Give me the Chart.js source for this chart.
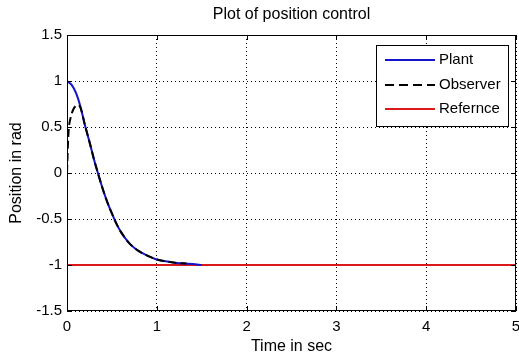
<!DOCTYPE html>
<html>
<head>
<meta charset="utf-8">
<script src="https://cdn.jsdelivr.net/npm/chart.js@4/dist/chart.umd.min.js"></script>
<style>
  html, body { margin: 0; padding: 0; background: #fff; }
  #wrap { width: 519px; height: 361px; }
</style>
</head>
<body>
<div id="wrap"><canvas id="myChart" width="519" height="361"></canvas></div>
<script>
// values
const plantTime = [0, 0.05, 0.1, 0.15, 0.2, 0.25, 0.3, 0.35, 0.4, 0.45, 0.5, 0.55, 0.6, 0.65, 0.7, 0.8, 0.9, 1.0, 1.1, 1.2, 1.3, 1.4, 1.5];
const plantPos = [1, 0.96, 0.87, 0.72, 0.52, 0.34, 0.15, -0.02, -0.18, -0.32, -0.44, -0.55, -0.64, -0.71, -0.77, -0.85, -0.9, -0.94, -0.96, -0.975, -0.985, -0.99, -1];
const obsTime = [0, 0.005, 0.01, 0.02, 0.04, 0.07, 0.1, 0.12, 0.15, 0.2, 0.25, 0.3, 0.35, 0.4, 0.45, 0.5, 0.55, 0.6, 0.65, 0.7, 0.8, 0.9, 1.0, 1.1, 1.2, 1.33];
const obsPos = [0, 0.15, 0.3, 0.48, 0.6, 0.69, 0.73, 0.74, 0.71, 0.52, 0.34, 0.15, -0.02, -0.18, -0.32, -0.44, -0.55, -0.64, -0.71, -0.77, -0.85, -0.9, -0.94, -0.96, -0.975, -0.985];
const refTime = [0, 5];
const refPos = [-1, -1];

const xTicks = [0, 1, 2, 3, 4, 5];
const yTicks = [-1.5, -1, -0.5, 0, 0.5, 1, 1.5];

const titleText = "Plot of position control";
const xTitle = "Time in sec";
const yTitle = "Position in rad";
const legendNames = ["Plant", "Observer", "Refernce"];

const blue = "rgb(20, 20, 200)";
const red = "rgb(220, 25, 25)";
const font = "Liberation Sans, Arial, sans-serif";

function pts(xs, ys) {
    return xs.map((x, i) => ({ x: x, y: ys[i] }));
}

// frame, inner ticks, title, axis titles and boxed legend like matlab
const matlabBits = {
    id: "matlabBits",
    afterDraw(chart) {
        const { ctx, chartArea: a, scales } = chart;
        ctx.save();
        ctx.strokeStyle = "#000";
        ctx.lineWidth = 1;
        ctx.setLineDash([]);
        ctx.strokeRect(a.left + 0.5, a.top + 0.5, a.right - a.left - 1, a.bottom - a.top - 1);

        ctx.beginPath();
        xTicks.forEach(v => {
            const px = Math.round(scales.x.getPixelForValue(v)) + 0.5;
            ctx.moveTo(px, a.bottom); ctx.lineTo(px, a.bottom - 5);
            ctx.moveTo(px, a.top); ctx.lineTo(px, a.top + 5);
        });
        yTicks.forEach(v => {
            const py = Math.round(scales.y.getPixelForValue(v)) + 0.5;
            ctx.moveTo(a.left, py); ctx.lineTo(a.left + 5, py);
            ctx.moveTo(a.right, py); ctx.lineTo(a.right - 5, py);
        });
        ctx.stroke();

        ctx.fillStyle = "#000";
        ctx.font = "16px " + font;
        ctx.textAlign = "center";
        ctx.textBaseline = "middle";
        ctx.fillText(titleText, (a.left + a.right) / 2, 15);
        ctx.fillText(xTitle, (a.left + a.right) / 2, 347);
        ctx.save();
        ctx.translate(17, (a.top + a.bottom) / 2);
        ctx.rotate(-Math.PI / 2);
        ctx.fillText(yTitle, 0, 0);
        ctx.restore();

        // legend
        const bx = 376, by = 45, bw = 132, bh = 81;
        ctx.fillStyle = "#fff";
        ctx.fillRect(bx, by, bw, bh);
        ctx.strokeStyle = "#000";
        ctx.strokeRect(bx + 0.5, by + 0.5, bw, bh);
        const rows = [60, 85, 109];
        const styles = [
            { c: blue, d: [] },
            { c: "#000", d: [9, 5] },
            { c: red, d: [] }
        ];
        ctx.font = "15px " + font;
        ctx.textAlign = "left";
        rows.forEach((ry, i) => {
            ctx.strokeStyle = styles[i].c;
            ctx.lineWidth = 2;
            ctx.setLineDash(styles[i].d);
            ctx.beginPath();
            ctx.moveTo(385, ry); ctx.lineTo(435, ry);
            ctx.stroke();
            ctx.fillStyle = "#000";
            ctx.fillText(legendNames[i], 439, ry);
        });
        ctx.restore();
    }
};

const ctx = document.getElementById("myChart").getContext("2d");
const myChart = new Chart(ctx, {
    type: "line",
    data: {
        datasets: [
            {
                label: legendNames[2],
                data: pts(refTime, refPos),
                borderColor: red,
                borderWidth: 2,
                pointRadius: 0,
                order: 3,
            }, {
                label: legendNames[0],
                data: pts(plantTime, plantPos),
                borderColor: blue,
                borderWidth: 2,
                pointRadius: 0,
                cubicInterpolationMode: "monotone",
                order: 2,
            }, {
                label: legendNames[1],
                data: pts(obsTime, obsPos),
                borderColor: "#000",
                borderWidth: 2,
                borderDash: [8, 4],
                pointRadius: 0,
                cubicInterpolationMode: "monotone",
                order: 1,
            },
        ],
    },
    options: {
        responsive: false,
        animation: false,
        layout: { padding: { top: 35, right: 3, left: 0, bottom: 0 } },
        plugins: {
            legend: { display: false },
            title: { display: false },
            tooltip: { enabled: false },
        },
        scales: {
            x: {
                type: "linear",
                min: 0,
                max: 5,
                afterBuildTicks: s => { s.ticks = xTicks.map(v => ({ value: v })); },
                afterFit: s => { s.height = 50; s.paddingLeft = 0; s.paddingRight = 0; },
                grid: { color: "#000", lineWidth: 1, drawTicks: false },
                border: { display: false, dash: [1, 3] },
                ticks: { color: "#000", padding: 7, font: { family: font, size: 15 }, callback: v => String(v) },
            },
            y: {
                type: "linear",
                min: -1.5,
                max: 1.5,
                afterBuildTicks: s => { s.ticks = yTicks.map(v => ({ value: v })); },
                afterFit: s => { s.width = 67; s.paddingTop = 0; s.paddingBottom = 0; },
                grid: { color: "#000", lineWidth: 1, drawTicks: false },
                border: { display: false, dash: [1, 3] },
                ticks: { color: "#000", padding: 5, font: { family: font, size: 15 }, callback: v => String(v) },
            },
        },
    },
    plugins: [matlabBits],
});
</script>
</body>
</html>
